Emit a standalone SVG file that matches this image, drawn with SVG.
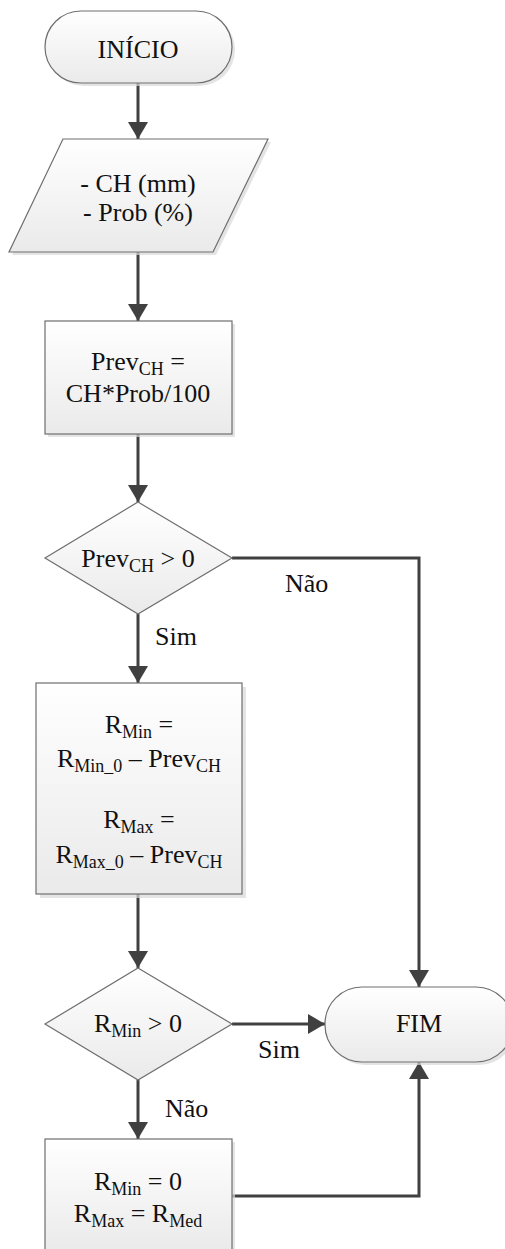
<svg xmlns="http://www.w3.org/2000/svg" width="505" height="1249" viewBox="0 0 505 1249">
  <style>
    .shape { fill: url(#fillGrad); stroke: #6e6e6e; stroke-width: 1.2; }
    .shadow { fill: #d9d9d9; opacity: 0.7; }
    .txt { font-family: "Liberation Serif", "Times New Roman", serif; font-size: 26px; fill: #111; text-anchor: middle; }
    .lbl { font-family: "Liberation Serif", "Times New Roman", serif; font-size: 26px; fill: #111; }
    .sub { font-size: 18px; }
    .conn { fill: none; stroke: #404040; stroke-width: 3; }
  </style>
  <defs>
    <linearGradient id="fillGrad" x1="0" y1="0" x2="0" y2="1">
      <stop offset="0" stop-color="#ffffff"/>
      <stop offset="1" stop-color="#eaeaea"/>
    </linearGradient>
    <marker id="arrow" markerUnits="userSpaceOnUse" markerWidth="18" markerHeight="20" refX="17" refY="10" orient="auto">
      <path d="M0,0 L17,10 L0,20 z" fill="#404040"/>
    </marker>
  </defs>

  <!-- connectors -->
  <g id="connectors">
    <line class="conn" x1="138" y1="83" x2="138" y2="139" marker-end="url(#arrow)"/>
    <line class="conn" x1="138" y1="252" x2="138" y2="321" marker-end="url(#arrow)"/>
    <line class="conn" x1="138" y1="434" x2="138" y2="502" marker-end="url(#arrow)"/>
    <line class="conn" x1="138" y1="614" x2="138" y2="683" marker-end="url(#arrow)"/>
    <polyline class="conn" points="232,558 419,558 419,987" marker-end="url(#arrow)"/>
    <line class="conn" x1="138" y1="894" x2="138" y2="968" marker-end="url(#arrow)"/>
    <line class="conn" x1="232" y1="1024" x2="325" y2="1024" marker-end="url(#arrow)"/>
    <line class="conn" x1="138" y1="1080" x2="138" y2="1139" marker-end="url(#arrow)"/>
    <polyline class="conn" points="232,1196 419,1196 419,1062" marker-end="url(#arrow)"/>
    <text class="lbl" x="285" y="592">Não</text>
    <text class="lbl" x="155" y="645">Sim</text>
    <text class="lbl" x="258" y="1058">Sim</text>
    <text class="lbl" x="165" y="1117">Não</text>
  </g>

  <!-- start terminal -->
  <g id="inicio">
    <rect class="shadow" x="48" y="14" width="187" height="72" rx="36"/>
    <rect class="shape" x="45" y="11" width="187" height="72" rx="36"/>
    <text class="txt" x="138" y="58">INÍCIO</text>
  </g>

  <!-- input data -->
  <g id="entrada">
    <polygon class="shadow" points="66,142 271,142 216,255 12,255"/>
    <polygon class="shape" points="63,139 268,139 213,252 9,252"/>
    <text class="txt" x="138" y="192">- CH (mm)</text>
    <text class="txt" x="138" y="221">- Prob (%)</text>
  </g>

  <!-- forecast computation -->
  <g id="calc-prev">
    <rect class="shadow" x="48" y="324" width="187" height="113"/>
    <rect class="shape" x="45" y="321" width="187" height="113"/>
    <text class="txt" x="138" y="370">Prev<tspan class="sub" dy="5">CH</tspan><tspan dy="-5"> =</tspan></text>
    <text class="txt" x="138" y="402">CH*Prob/100</text>
  </g>

  <!-- decision: forecast positive -->
  <g id="dec-prev">
    <polygon class="shape" points="138,502 232,558 138,614 45,558"/>
    <text class="txt" x="138" y="567">Prev<tspan class="sub" dy="5">CH</tspan><tspan dy="-5"> &gt; 0</tspan></text>
  </g>

  <!-- range update -->
  <g id="calc-r">
    <rect class="shadow" x="40" y="687" width="206" height="211"/>
    <rect class="shape" x="36" y="683" width="206" height="211"/>
    <text class="txt" x="139" y="733">R<tspan class="sub" dy="5">Min</tspan><tspan dy="-5"> =</tspan></text>
    <text class="txt" x="139" y="767">R<tspan class="sub" dy="5">Min_0</tspan><tspan dy="-5"> – Prev</tspan><tspan class="sub" dy="5">CH</tspan></text>
    <text class="txt" x="139" y="828">R<tspan class="sub" dy="5">Max</tspan><tspan dy="-5"> =</tspan></text>
    <text class="txt" x="139" y="863">R<tspan class="sub" dy="5">Max_0</tspan><tspan dy="-5"> – Prev</tspan><tspan class="sub" dy="5">CH</tspan></text>
  </g>

  <!-- decision: R_Min positive -->
  <g id="dec-rmin">
    <polygon class="shape" points="138,968 232,1024 138,1080 45,1024"/>
    <text class="txt" x="138" y="1032">R<tspan class="sub" dy="5">Min</tspan><tspan dy="-5"> &gt; 0</tspan></text>
  </g>

  <!-- fallback assignment -->
  <g id="calc-zero">
    <rect class="shadow" x="48" y="1142" width="187" height="113"/>
    <rect class="shape" x="45" y="1139" width="187" height="113"/>
    <text class="txt" x="138" y="1190">R<tspan class="sub" dy="5">Min</tspan><tspan dy="-5"> = 0</tspan></text>
    <text class="txt" x="138" y="1222">R<tspan class="sub" dy="5">Max</tspan><tspan dy="-5"> = R</tspan><tspan class="sub" dy="5">Med</tspan></text>
  </g>

  <!-- end terminal -->
  <g id="fim">
    <rect class="shadow" x="328" y="990" width="188" height="75" rx="37"/>
    <rect class="shape" x="325" y="987" width="188" height="75" rx="37"/>
    <text class="txt" x="419" y="1032">FIM</text>
  </g>
</svg>
